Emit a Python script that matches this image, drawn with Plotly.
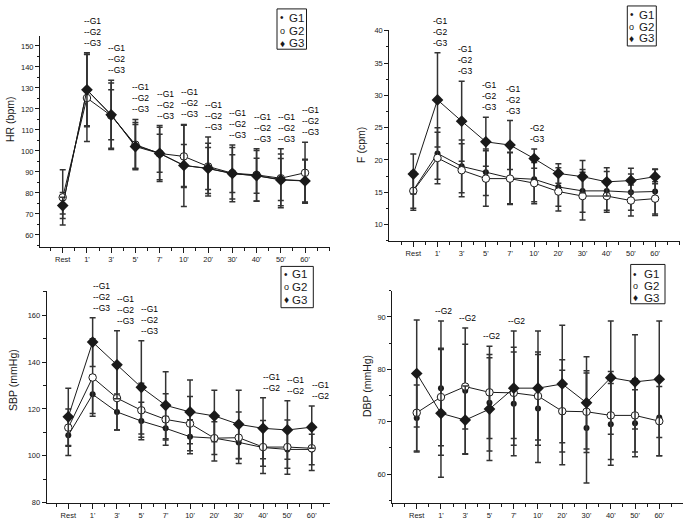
import plotly.graph_objects as go

W, H = 685, 524

times = ["Rest", "1'", "3'", "5'", "7'", "10'", "20'", "30'", "40'", "50'", "60'"]
group_names = ["G1", "G2", "G3"]

# ---- HR (bpm) ----
hr_g1 = [74.0, 129.0, 117.2, 102.6, 98.9, 93.1, 91.6, 89.2, 88.2, 86.4, 85.8]
hr_g2 = [77.9, 125.2, 116.8, 103.0, 98.8, 97.4, 92.6, 89.4, 88.6, 87.0, 89.6]
hr_g3 = [74.0, 129.1, 117.2, 102.1, 98.8, 93.1, 91.7, 89.3, 88.2, 86.2, 85.7]
hr_g1_sd = [6.2, 17.0, 11.9, 11.0, 9.0, 10.0, 10.0, 9.0, 8.3, 10.0, 10.3]
hr_g2_sd = [13.2, 20.7, 15.5, 12.0, 12.5, 14.8, 14.0, 12.3, 12.5, 14.0, 14.5]
hr_g3_sd = [4.0, 17.6, 16.5, 10.5, 13.3, 19.5, 12.0, 13.5, 12.0, 12.3, 10.0]
hr_sig = [[], ["G1", "G2", "G3"], ["G1", "G2", "G3"], ["G1", "G2", "G3"], ["G1", "G2", "G3"],
          ["G1", "G2", "G3"], ["G1", "G2", "G3"], ["G1", "G2", "G3"], ["G1", "G2", "G3"],
          ["G1", "G2", "G3"], ["G1", "G2", "G3"]]

# ---- F (cpm) ----
f_g1 = [15.3, 21.0, 19.0, 18.1, 17.2, 17.0, 15.8, 15.2, 15.2, 15.0, 15.1]
f_g2 = [15.2, 20.3, 18.4, 17.1, 17.1, 16.4, 15.1, 14.4, 14.4, 13.7, 14.0]
f_g3 = [17.8, 29.3, 26.0, 22.8, 22.3, 20.2, 17.9, 17.4, 16.6, 16.8, 17.4]
f_g1_sd = [2.8, 4.0, 4.1, 3.6, 4.0, 3.5, 3.0, 3.3, 3.0, 2.8, 3.5]
f_g2_sd = [3.0, 4.0, 4.1, 4.3, 4.0, 3.2, 3.0, 3.7, 2.5, 2.4, 2.6]
f_g3_sd = [3.1, 7.3, 6.2, 3.8, 3.8, 1.5, 1.5, 2.5, 2.2, 1.9, 1.1]
f_sig = [[], ["G1", "G2", "G3"], ["G1", "G2", "G3"], ["G1", "G2", "G3"], ["G1", "G2", "G3"],
         ["G2", "G3"], [], [], [], [], []]

# ---- SBP (mmHg) ----
sbp_g1 = [108.7, 126.2, 118.7, 114.8, 111.7, 108.1, 107.5, 105.7, 103.5, 102.7, 102.7]
sbp_g2 = [112.0, 133.4, 124.6, 119.4, 115.5, 113.7, 107.5, 107.7, 103.7, 103.7, 103.2]
sbp_g3 = [116.6, 148.5, 138.8, 129.2, 121.5, 118.7, 117.0, 113.4, 111.7, 111.0, 112.2]
sbp_g1_sd = [8.6, 8.2, 7.7, 8.0, 5.0, 7.3, 7.0, 7.0, 8.0, 8.0, 6.5]
sbp_g2_sd = [8.0, 16.5, 13.6, 11.5, 11.0, 11.6, 9.7, 11.0, 11.3, 11.6, 9.5]
sbp_g3_sd = [12.2, 10.4, 14.5, 19.9, 14.3, 13.6, 11.0, 14.6, 13.0, 12.5, 9.0]
sbp_sig = [[], ["G1", "G2", "G3"], ["G1", "G2", "G3"], ["G1", "G2", "G3"], [], [], [], [],
           ["G1", "G2"], ["G1", "G2"], ["G1", "G2"]]

# ---- DBP (mmHg) ----
dbp_g1 = [70.7, 76.4, 75.9, 73.6, 73.4, 72.5, 71.8, 68.8, 69.5, 69.7, 70.8]
dbp_g2 = [71.7, 74.7, 76.7, 75.6, 75.5, 74.9, 72.0, 71.9, 71.2, 71.2, 70.1]
dbp_g3 = [79.2, 71.6, 70.3, 72.4, 76.4, 76.4, 77.2, 73.6, 78.4, 77.6, 78.1]
dbp_g1_sd = [6.3, 12.8, 12.0, 9.2, 9.9, 10.3, 10.0, 10.5, 7.8, 6.4, 7.3]
dbp_g2_sd = [7.5, 9.3, 8.1, 8.8, 8.7, 8.4, 7.8, 7.8, 8.4, 7.0, 6.6]
dbp_g3_sd = [10.2, 12.2, 6.5, 9.8, 10.9, 10.9, 11.2, 8.8, 10.8, 9.0, 11.1]
dbp_sig = [[], ["G2"], ["G2"], ["G2"], ["G2"], [], [], [], [], [], []]

FONT = "Liberation Sans, Arial, sans-serif"
INK = "#1a1a1a"

panels = [
    dict(means=[hr_g1, hr_g2, hr_g3], sds=[hr_g1_sd, hr_g2_sd, hr_g3_sd], sig=hr_sig, prefix="--",
         title="HR (bpm)", box=(40, 32.3, 330, 247.3), xr=[-0.937, 11.03], yr=[54.24, 154.85],
         dtick=10, tick0=0, minor=5, dx=-5, g1_line=True, title_xy=(10, 117),
         legend=dict(box=(277, 5, 306.5, 46), rows=[14, 27, 40], sym_x=282, txt_x=287)),
    dict(means=[f_g1, f_g2, f_g3], sds=[f_g1_sd, f_g2_sd, f_g3_sd], sig=f_sig, prefix="-",
         title="F (cpm)", box=(389.3, 26.7, 680, 241.3), xr=[-0.993, 11.03], yr=[7.41, 40.09],
         dtick=5, tick0=0, minor=2.5, dx=-6, g1_line=True, title_xy=(361.7, 143.7),
         legend=dict(box=(627.3, 2, 656.3, 42.7), rows=[11, 23, 35], sym_x=631.7, txt_x=636.7)),
    dict(means=[sbp_g1, sbp_g2, sbp_g3], sds=[sbp_g1_sd, sbp_g2_sd, sbp_g3_sd], sig=sbp_sig, prefix="--",
         title="SBP (mmHg)", box=(46.7, 292.3, 330, 507.3), xr=[-0.887, 10.75], yr=[80, 170.2],
         dtick=20, tick0=0, minor=10, dx=-2, g1_line=True, title_xy=(13, 382.5),
         legend=dict(box=(281, 267, 313.3, 309), rows=[275, 288, 300.7], sym_x=286, txt_x=289.5)),
    dict(means=[dbp_g1, dbp_g2, dbp_g3], sds=[dbp_g1_sd, dbp_g2_sd, dbp_g3_sd], sig=dbp_sig, prefix="--",
         title="DBP (mmHg)", box=(392.3, 291.7, 683.3, 507.3), xr=[-1.006, 10.99], yr=[54.56, 95.0],
         dtick=10, tick0=0, minor=5, dx=-8, g1_line=False, title_xy=(367.8, 389),
         legend=dict(box=(630.7, 265, 665, 305), rows=[275, 287, 299], sym_x=635, txt_x=641.7)),
]

marker_styles = [
    dict(symbol="circle", size=6, color=INK, line=dict(width=0)),
    dict(symbol="circle", size=7.5, color="white", line=dict(width=1, color=INK)),
    dict(symbol="diamond", size=9, color=INK, line=dict(width=0)),
]
legend_syms = ["•", "o", "♦"]


def px(x):
    return x / W


def py(y):
    return 1 - y / H


fig = go.Figure()
annotations = []
shapes = []
layout = {}

xs = list(range(len(times)))

for k, p in enumerate(panels, start=1):
    xa = "x" if k == 1 else f"x{k}"
    ya = "y" if k == 1 else f"y{k}"
    x0, y0, x1, y1 = p["box"]

    for gi, (m, sd) in enumerate(zip(p["means"], p["sds"])):
        mode = "lines+markers" if (gi > 0 or p["g1_line"]) else "markers"
        fig.add_trace(go.Scatter(
            x=xs, y=m, mode=mode, xaxis=xa, yaxis=ya, showlegend=False,
            name=group_names[gi],
            line=dict(color=INK, width=1),
            marker=marker_styles[gi],
            error_y=dict(type="data", array=sd, visible=True, color="#333333",
                         thickness=1.5, width=3),
            cliponaxis=False,
        ))

    layout["xaxis" if k == 1 else f"xaxis{k}"] = dict(
        domain=[px(x0), px(x1)], range=p["xr"], anchor=ya,
        tickmode="array", tickvals=xs, ticktext=times,
        ticks="outside", ticklen=5, tickwidth=1, tickcolor=INK,
        showline=True, linecolor=INK, linewidth=1,
        showgrid=False, zeroline=False,
        tickfont=dict(size=7.5, color=INK, family=FONT),
        minor=dict(tickmode="linear", tick0=-1, dtick=0.5, ticks="outside",
                   ticklen=3, tickwidth=1, tickcolor=INK, showgrid=False),
        fixedrange=True,
    )
    layout["yaxis" if k == 1 else f"yaxis{k}"] = dict(
        domain=[py(y1), py(y0)], range=p["yr"], anchor=xa,
        tickmode="linear", tick0=p["tick0"], dtick=p["dtick"],
        ticks="outside", ticklen=4, tickwidth=1, tickcolor=INK,
        showline=True, linecolor=INK, linewidth=1,
        showgrid=False, zeroline=False,
        tickfont=dict(size=7.5, color=INK, family=FONT),
        minor=dict(tickmode="linear", tick0=p["tick0"], dtick=p["minor"], ticks="outside",
                   ticklen=2.5, tickwidth=1, tickcolor=INK, showgrid=False),
        fixedrange=True,
    )

    # axis title
    tx, ty = p["title_xy"]
    annotations.append(dict(
        x=px(tx), y=py(ty), xref="paper", yref="paper", text=p["title"],
        textangle=-90, showarrow=False, xanchor="center", yanchor="middle",
        font=dict(size=10.5, color=INK, family=FONT),
    ))

    # significance labels stacked above the highest error bar
    for i, labs in enumerate(p["sig"]):
        if not labs:
            continue
        top = max(m[i] + s[i] for m, s in zip(p["means"], p["sds"]))
        annotations.append(dict(
            x=i, y=top, xref=xa, yref=ya,
            text="<br>".join(p["prefix"] + g for g in labs),
            showarrow=False, xanchor="left", yanchor="bottom", align="left",
            xshift=p["dx"], yshift=3,
            font=dict(size=8.5, color="#000000", family=FONT),
        ))

    # legend box
    lg = p["legend"]
    bx0, by0, bx1, by1 = lg["box"]
    shapes.append(dict(type="rect", xref="paper", yref="paper",
                       x0=px(bx0), x1=px(bx1), y0=py(by1), y1=py(by0),
                       line=dict(color=INK, width=1), fillcolor="white"))
    for gi, ry in enumerate(lg["rows"]):
        annotations.append(dict(
            x=px(lg["sym_x"]), y=py(ry), xref="paper", yref="paper",
            text=legend_syms[gi], showarrow=False, xanchor="center", yanchor="middle",
            font=dict(size=10 if gi != 1 else 9, color=INK, family=FONT),
        ))
        annotations.append(dict(
            x=px(lg["txt_x"]), y=py(ry), xref="paper", yref="paper",
            text=group_names[gi], showarrow=False, xanchor="left", yanchor="middle",
            font=dict(size=11.5, color=INK, family=FONT),
        ))

fig.update_layout(
    width=W, height=H, autosize=False,
    margin=dict(l=0, r=0, t=0, b=0),
    paper_bgcolor="white", plot_bgcolor="white",
    annotations=annotations, shapes=shapes,
    showlegend=False,
    **layout,
)

fig.write_html("out.html",
               config={"displayModeBar": False, "staticPlot": True},
               post_script="document.body.style.margin='0px';document.body.style.padding='0px';")
